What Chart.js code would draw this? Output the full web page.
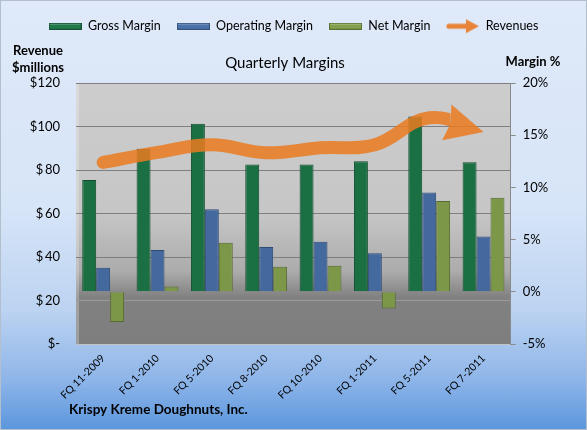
<!DOCTYPE html>
<html lang="en">
<head>
    <meta charset="UTF-8">
    <title>Quarterly Margins</title>
    <script src="https://cdn.jsdelivr.net/npm/chart.js"></script>
    <style>
        html, body { margin: 0; padding: 0; }
        .chart-box {
            position: relative;
            width: 587px;
            height: 430px;
            background: linear-gradient(to bottom, #dfe9f9 0%, #d7e5f8 48%, #bcd3f1 72%, #8fb6e9 88%, #5b96dc 100%);
            outline: 1px solid #b3bfcd;
            outline-offset: -1px;
        }
    </style>
</head>
<body>
    <div class="chart-box">
        <canvas id="marginsChart"></canvas>
    </div>

    <script>
        // values
        const quarters = ['FQ 11-2009', 'FQ 1-2010', 'FQ 5-2010', 'FQ 8-2010', 'FQ 10-2010', 'FQ 1-2011', 'FQ 5-2011', 'FQ 7-2011'];
        const grossMargin = [10.7, 13.7, 16.1, 12.2, 12.2, 12.5, 16.8, 12.4];
        const operatingMargin = [2.3, 4.0, 7.9, 4.3, 4.8, 3.7, 9.5, 5.3];
        const netMargin = [-2.9, 0.5, 4.7, 2.4, 2.5, -1.6, 8.7, 9.0];
        const revenues = [83.5, 88.1, 91.6, 87.9, 90.2, 91.6, 104, 97.5];
        const revenueTicks = [0, 20, 40, 60, 80, 100, 120];
        const marginTicks = [-5, 0, 5, 10, 15, 20];

        const FONT = 'Lato';
        const ORANGE = 'rgba(234, 122, 32, 0.85)';

        // small legend swatches
        function swatch(fill, edge) {
            const c = document.createElement('canvas');
            c.width = 33; c.height = 7;
            const g = c.getContext('2d');
            g.fillStyle = edge;
            g.fillRect(0, 0, 33, 7);
            g.fillStyle = fill;
            g.fillRect(1, 1, 31, 5);
            g.fillStyle = 'rgba(255,255,255,0.25)';
            g.fillRect(1, 1, 31, 1);
            return c;
        }

        function arrowIcon() {
            const c = document.createElement('canvas');
            c.width = 34; c.height = 16;
            const g = c.getContext('2d');
            g.strokeStyle = '#e8843a';
            g.lineWidth = 5;
            g.lineCap = 'round';
            g.beginPath();
            g.moveTo(3, 8);
            g.lineTo(21, 8);
            g.stroke();
            g.fillStyle = '#e8843a';
            g.beginPath();
            g.moveTo(20, 1);
            g.lineTo(33, 8);
            g.lineTo(20, 15);
            g.closePath();
            g.fill();
            return c;
        }

        function revenueLabel(v) {
            if (v === 0) return '$-';
            return v >= 100 ? '$' + v : '$\u2009' + v;
        }

        // gray plot background
        const plotBackground = {
            id: 'plotBackground',
            beforeDraw(chart) {
                const { ctx, chartArea: a } = chart;
                const grad = ctx.createLinearGradient(0, a.top, 0, a.bottom);
                grad.addColorStop(0, '#cdcdcd');
                grad.addColorStop(0.5, '#c6c6c6');
                grad.addColorStop(0.72, '#acacac');
                grad.addColorStop(0.79, '#8e8e8e');
                grad.addColorStop(0.82, '#818181');
                grad.addColorStop(1, '#7e7e7e');
                ctx.save();
                ctx.fillStyle = grad;
                ctx.fillRect(a.left, a.top, a.right - a.left, a.bottom - a.top);
                ctx.fillStyle = 'rgba(255,255,255,0.25)';
                ctx.fillRect(a.left, a.top, 3, a.bottom - a.top);
                ctx.restore();
            }
        };

        // keep the legend block tall enough to put the plot top where it is in the picture
        const legendHeight = {
            id: 'legendHeight',
            beforeInit(chart) {
                const fit = chart.legend.fit;
                chart.legend.fit = function () {
                    fit.call(this);
                    this.height = 79;
                };
            }
        };

        // revenue line ends in an arrow head
        const ARROW_LEN = 34;
        const ARROW_HALF = 18.5;
        function arrowGeometry(chart) {
            const meta = chart.getDatasetMeta(3);
            const pts = meta.data;
            const tip = pts[pts.length - 1];
            const prev = pts[pts.length - 2];
            let dx = tip.x - prev.x, dy = tip.y - prev.y;
            const len = Math.hypot(dx, dy);
            dx /= len; dy /= len;
            const bx = tip.x - dx * ARROW_LEN, by = tip.y - dy * ARROW_LEN;
            return { tip, dx, dy, bx, by };
        }

        const revenueArrow = {
            id: 'revenueArrow',
            beforeDatasetDraw(chart, args) {
                if (args.index !== 3) return;
                const g = arrowGeometry(chart);
                chart.ctx.save();
                chart.ctx.beginPath();
                chart.ctx.rect(0, 0, g.bx, chart.height);
                chart.ctx.clip();
            },
            afterDatasetDraw(chart, args) {
                if (args.index !== 3) return;
                const ctx = chart.ctx;
                ctx.restore();
                const g = arrowGeometry(chart);
                const px = -g.dy, py = g.dx;
                ctx.save();
                ctx.fillStyle = ORANGE;
                ctx.beginPath();
                ctx.moveTo(g.tip.x, g.tip.y);
                ctx.lineTo(g.bx - g.dx * 4 + px * ARROW_HALF, g.by - g.dy * 4 + py * ARROW_HALF);
                ctx.lineTo(g.bx, g.by);
                ctx.lineTo(g.bx - g.dx * 4 - px * ARROW_HALF, g.by - g.dy * 4 - py * ARROW_HALF);
                ctx.closePath();
                ctx.fill();
                ctx.restore();
            }
        };

        // title, axis headings and company name
        const chartTexts = {
            id: 'chartTexts',
            afterDraw(chart) {
                const ctx = chart.ctx;
                ctx.save();
                ctx.fillStyle = '#000';
                ctx.textBaseline = 'middle';
                ctx.font = '15px ' + FONT;
                ctx.textAlign = 'center';
                ctx.fillText('Quarterly Margins', 285, 63);
                ctx.font = 'bold 13px ' + FONT;
                ctx.fillText('Revenue', 38, 51);
                ctx.fillText('$millions', 38, 68);
                ctx.fillText('Margin %', 533, 62);
                ctx.font = 'bold 13.5px ' + FONT;
                ctx.textAlign = 'left';
                ctx.fillText('Krispy Kreme Doughnuts, Inc.', 69, 410);
                ctx.restore();
            }
        };

        new Chart(document.getElementById('marginsChart'), {
            data: {
                labels: quarters,
                datasets: [{
                    type: 'bar',
                    label: 'Gross Margin',
                    data: grossMargin,
                    yAxisID: 'yMargin',
                    backgroundColor: '#1b7043',
                    borderColor: '#124d2e',
                    borderWidth: 1,
                    pointStyle: swatch('#1f7a4a', '#145233'),
                    order: 1
                }, {
                    type: 'bar',
                    label: 'Operating Margin',
                    data: operatingMargin,
                    yAxisID: 'yMargin',
                    backgroundColor: '#44699e',
                    borderColor: '#2e4b76',
                    borderWidth: 1,
                    pointStyle: swatch('#4a72a8', '#34547f'),
                    order: 1
                }, {
                    type: 'bar',
                    label: 'Net Margin',
                    data: netMargin,
                    yAxisID: 'yMargin',
                    backgroundColor: '#7c9747',
                    borderColor: '#566b2f',
                    borderWidth: 1,
                    pointStyle: swatch('#84a04c', '#5c7234'),
                    order: 1
                }, {
                    type: 'line',
                    label: 'Revenues',
                    data: revenues,
                    yAxisID: 'yRevenue',
                    borderColor: ORANGE,
                    borderWidth: 13,
                    borderCapStyle: 'round',
                    tension: 0.4,
                    pointRadius: 0,
                    pointHoverRadius: 0,
                    pointStyle: arrowIcon(),
                    order: 0
                }]
            },
            options: {
                responsive: true,
                maintainAspectRatio: false,
                animation: false,
                layout: { padding: { top: 4, left: 0, right: 0, bottom: 0 } },
                datasets: {
                    bar: { categoryPercentage: 0.77, barPercentage: 1.0 }
                },
                plugins: {
                    legend: {
                        position: 'top',
                        labels: {
                            usePointStyle: true,
                            pointStyleWidth: 33,
                            boxHeight: 8,
                            padding: 16,
                            color: '#000',
                            font: { family: FONT, size: 12.5 },
                            sort: (a, b) => a.datasetIndex - b.datasetIndex
                        }
                    },
                    tooltip: { enabled: false }
                },
                scales: {
                    x: {
                        grid: { display: false },
                        border: { display: true, color: '#c4c4c4' },
                        ticks: {
                            autoSkip: false,
                            minRotation: 45,
                            maxRotation: 45,
                            padding: 0,
                            color: '#000',
                            font: { family: FONT, size: 10.5 }
                        },
                        afterFit(scale) { scale.height = 86; }
                    },
                    yRevenue: {
                        position: 'left',
                        min: 0,
                        max: 120,
                        afterBuildTicks(scale) { scale.ticks = revenueTicks.map(v => ({ value: v })); },
                        grid: {
                            drawTicks: false,
                            color: ctx => ctx.tick && ctx.tick.value === 20 ? '#9a9a9a' : (ctx.tick && ctx.tick.value === 0 ? '#c4c4c4' : '#7f7f7f'),
                            lineWidth: 1
                        },
                        border: { display: false },
                        ticks: {
                            padding: 16,
                            color: '#000',
                            font: { family: FONT, size: 13 },
                            callback: v => revenueLabel(v)
                        },
                        afterFit(scale) { scale.width = 76; }
                    },
                    yMargin: {
                        position: 'right',
                        min: -5,
                        max: 20,
                        afterBuildTicks(scale) { scale.ticks = marginTicks.map(v => ({ value: v })); },
                        grid: {
                            drawOnChartArea: false,
                            drawTicks: true,
                            tickLength: 5,
                            color: '#8a8a8a'
                        },
                        border: { display: true, color: '#8a8a8a' },
                        ticks: {
                            padding: 7,
                            color: '#000',
                            font: { family: FONT, size: 13 },
                            callback: v => v + '%'
                        },
                        afterFit(scale) { scale.width = 76.3; }
                    }
                }
            },
            plugins: [legendHeight, plotBackground, revenueArrow, chartTexts]
        });
    </script>
</body>
</html>
